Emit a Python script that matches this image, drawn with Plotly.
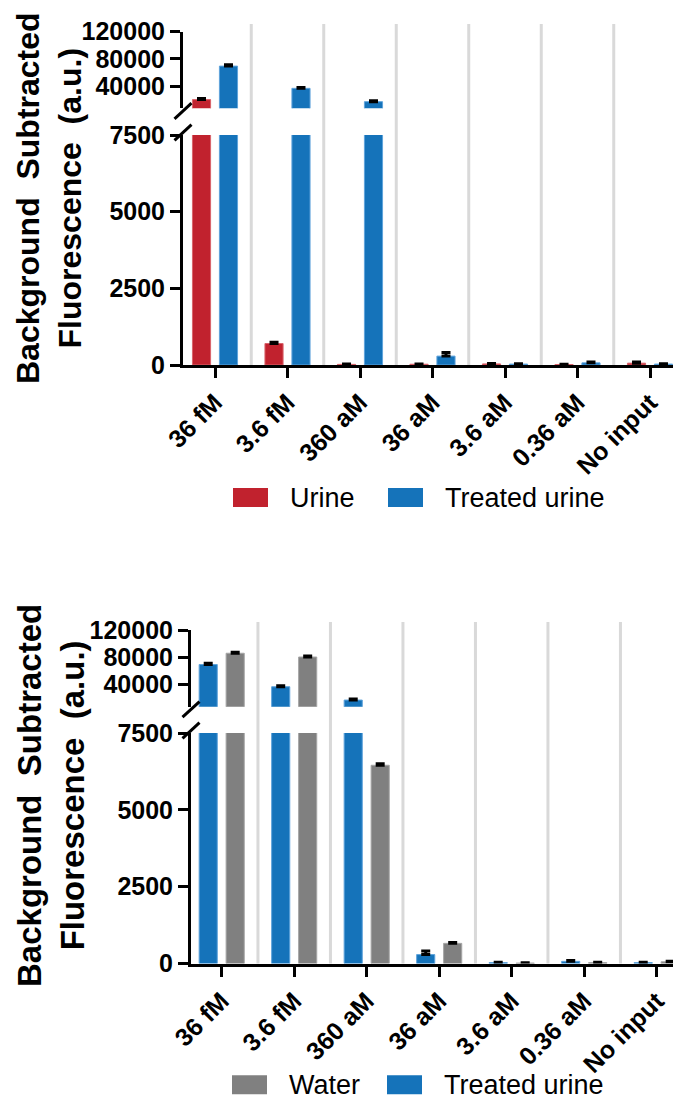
import plotly.graph_objects as go

categories = ["36 fM", "3.6 fM", "360 aM", "36 aM", "3.6 aM", "0.36 aM", "No input"]
urine = [20500, 700, 20, 25, 35, 15, 60]
urine_err = [1500, 40, 10, 10, 15, 10, 40]
treated = [69500, 37000, 17500, 290, 30, 70, 30]
treated_err = [1900, 1400, 1400, 120, 10, 30, 10]
water = [86000, 80500, 6450, 655, 15, 30, 55]
water_err = [1500, 1300, 50, 30, 10, 10, 15]

lower_ticks = [0, 2500, 5000, 7500]
upper_ticks = [40000, 80000, 120000]
lower_ticklabels = ["0", "2500", "5000", "7500"]
upper_ticklabels = ["40000", "80000", "120000"]

RED = "#C1222E"
BLUE = "#1573BA"
GRAY = "#808080"
FONT = "Liberation Sans, Arial, sans-serif"

PAGE_W, PAGE_H = 681, 1099
M = 8  # default body margin of the page
W, H = PAGE_W - M, PAGE_H - M
BREAK_LOW, BREAK_HIGH = 7500, 7800


def px(x):
    return (x - M) / W


def py(y):
    return 1 - (y - M) / H


idx = list(range(len(categories)))
BW = 0.25
OFF = 0.186

fig = go.Figure()


def add_pair(vals, errs, color, edge, side, xa, ya_low, ya_up, name):
    for ya, keep in ((ya_low, lambda v: True), (ya_up, lambda v: v > BREAK_HIGH)):
        v_seg = [v if keep(v) else None for v in vals]
        fig.add_trace(go.Bar(
            x=idx, y=v_seg, xaxis=xa, yaxis=ya, name=name,
            width=BW, offset=side * OFF - BW / 2,
            marker=dict(color=color, line=dict(color=edge, width=1)),
            error_y=dict(type="data", array=errs, arrayminus=[0] * len(errs), symmetric=False,
                         color="black", thickness=3, width=4.5),
            showlegend=False,
        ))


# top panel
add_pair(urine, urine_err, RED, "#d9646c", -1, "x", "y", "y2", "Urine")
add_pair(treated, treated_err, BLUE, "#5fa3db", 1, "x", "y", "y2", "Treated urine")
# bottom panel
add_pair(treated, treated_err, BLUE, "#5fa3db", -1, "x2", "y3", "y4", "Treated urine")
add_pair(water, water_err, GRAY, "#a6a6a6", 1, "x2", "y3", "y4", "Water")

axis_common = dict(showline=True, linewidth=3, linecolor="black", ticks="outside", automargin=False,
                   ticklen=10, tickwidth=3, tickcolor="black", showgrid=False, zeroline=False,
                   tickfont=dict(family=FONT, size=25, color="black", weight="bold"))

xcommon = dict(axis_common)
xcommon["tickfont"] = dict(family=FONT, size=25, color="black", weight="bold")

panels = [
    dict(ax=183, t0=215, lo=(365, 135), up=(108.3, 31.6), sep=24, xa="xaxis", ya="yaxis", yb="yaxis2",
         xanchor="y", xref="x"),
    dict(ax=191, t0=221.7, lo=(963.5, 733), up=(706.7, 630), sep=622, xa="xaxis2", ya="yaxis3", yb="yaxis4",
         xanchor="y3", xref="x2"),
]
step = 72.5
layout_axes = {}
shapes = []
for p in panels:
    r0 = (p["ax"] - p["t0"]) / step
    r1 = (PAGE_W - p["t0"]) / step
    layout_axes[p["xa"]] = dict(xcommon, domain=[px(p["ax"]), 1], anchor=p["xanchor"], range=[r0, r1],
                                tickmode="array", tickvals=idx, ticktext=categories, tickangle=-45)
    xname = p["xref"]
    layout_axes[p["ya"]] = dict(axis_common, domain=[py(p["lo"][0]), py(p["lo"][1])], anchor=xname,
                                range=[0, BREAK_LOW], tickmode="array", tickvals=lower_ticks,
                                ticktext=lower_ticklabels)
    layout_axes[p["yb"]] = dict(axis_common, domain=[py(p["up"][0]), py(p["up"][1])], anchor=xname,
                                range=[BREAK_HIGH, 120000], tickmode="array", tickvals=upper_ticks,
                                ticktext=upper_ticklabels)
    for k in range(len(categories) - 1):
        shapes.append(dict(type="line", xref=p["xref"], yref="paper", x0=k + 0.5, x1=k + 0.5,
                           y0=py(p["lo"][0]), y1=py(p["sep"]), line=dict(color="#d9d9d9", width=3),
                           layer="below"))
    ax = p["ax"]
    for y_cross in (p["up"][0] + 2.7, p["lo"][1] - 2.5):
        shapes.append(dict(type="line", xref="paper", yref="paper",
                           x0=px(ax - 8.5), y0=py(y_cross + 7.8), x1=px(ax + 8.5), y1=py(y_cross - 7.8),
                           line=dict(color="black", width=3)))

annotations = []
titles = [(49, 198, 32), (51, 796, 33)]
for (tx, ty, fs) in titles:
    annotations.append(dict(xref="paper", yref="paper", x=px(tx), y=py(ty), xanchor="center", yanchor="middle",
                            text="Background\u00a0 Subtracted<br>Fluorescence\u00a0 (a.u.)", textangle=-90,
                            showarrow=False, font=dict(family=FONT, size=fs, color="black", weight="bold")))

legends = [
    (497.5, [(233, RED, "Urine"), (388, BLUE, "Treated urine")]),
    (1084.7, [(232, GRAY, "Water"), (387, BLUE, "Treated urine")]),
]
for (ly, items) in legends:
    for (lx, col, lab) in items:
        shapes.append(dict(type="rect", xref="paper", yref="paper", x0=px(lx), x1=px(lx + 35),
                           y0=py(ly + 9.5), y1=py(ly - 9.5), fillcolor=col, line=dict(width=0)))
        annotations.append(dict(xref="paper", yref="paper", x=px(lx + 55), y=py(ly), xanchor="left",
                                yanchor="middle", text=lab, showarrow=False,
                                font=dict(family=FONT, size=27, color="black")))

fig.update_layout(width=W, height=H, margin=dict(l=0, r=0, t=0, b=0), plot_bgcolor="white",
                  paper_bgcolor="white", barmode="overlay", shapes=shapes, annotations=annotations,
                  showlegend=False, **layout_axes)

fig.write_html("out.html")
